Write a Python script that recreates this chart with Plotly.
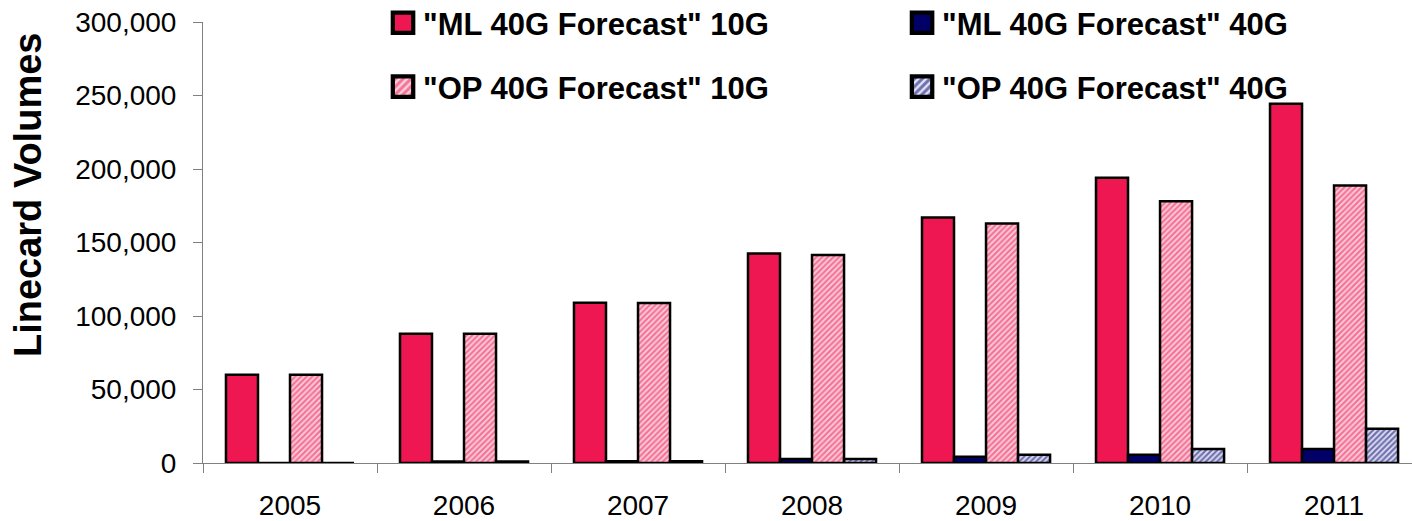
import plotly.graph_objects as go

years = ["2005", "2006", "2007", "2008", "2009", "2010", "2011"]
ml_10g = [60000, 88000, 109000, 142600, 167000, 194000, 244400]
ml_40g = [0, 1000, 1200, 2800, 4300, 5600, 9500]
op_10g = [60000, 88000, 108800, 141500, 163000, 178000, 188700]
op_40g = [0, 1000, 1200, 2800, 5600, 9500, 23300]

RED = "#EF1752"
NAVY = "#000066"
FONT = "Arial, Liberation Sans, sans-serif"

fig = go.Figure()
line = dict(color="black", width=2.5)
fig.add_trace(go.Bar(x=years, y=ml_10g, name='"ML 40G Forecast" 10G',
                     marker=dict(color=RED, line=line), legend="legend"))
fig.add_trace(go.Bar(x=years, y=ml_40g, name='"ML 40G Forecast" 40G',
                     marker=dict(color=NAVY, line=line), legend="legend2"))
fig.add_trace(go.Bar(x=years, y=op_10g, name='"OP 40G Forecast" 10G',
                     marker=dict(color="#FAD0DC", line=line,
                                 pattern=dict(shape="/", fgcolor=RED, bgcolor="#FAD0DC",
                                              size=4, solidity=0.55)),
                     legend="legend3"))
fig.add_trace(go.Bar(x=years, y=op_40g, name='"OP 40G Forecast" 40G',
                     marker=dict(color="#E2E2F6", line=line,
                                 pattern=dict(shape="/", fgcolor=NAVY, bgcolor="#E2E2F6",
                                              size=4, solidity=0.55)),
                     legend="legend4"))

legend_common = dict(orientation="h", xanchor="left", yanchor="middle",
                     font=dict(family=FONT, size=31, color="black", weight="bold"),
                     itemwidth=30, bgcolor="rgba(0,0,0,0)", borderwidth=0)

col1, col2 = 0.1489, 0.5782
row1, row2 = 0.9975, 0.8525

fig.update_layout(
    width=1412, height=521, showlegend=True,
    margin=dict(l=203, r=0, t=22, b=58, autoexpand=False),
    paper_bgcolor="white", plot_bgcolor="white",
    barmode="group", bargap=0.264, bargroupgap=0,
    font=dict(family=FONT, size=28, color="black"),
    legend=dict(x=col1, y=row1, **legend_common),
    legend2=dict(x=col2, y=row1, **legend_common),
    legend3=dict(x=col1, y=row2, **legend_common),
    legend4=dict(x=col2, y=row2, **legend_common),
    xaxis=dict(type="category", range=[-0.5, 6.448], tickson="boundaries",
               ticks="outside", ticklen=9, tickcolor="#808080",
               showline=True, linecolor="#808080", linewidth=1,
               showgrid=False, tickfont=dict(size=28), ticklabelstandoff=17),
    yaxis=dict(range=[0, 300000], dtick=50000, tickformat=",",
               ticks="outside", ticklen=9, tickcolor="#808080",
               showline=True, linecolor="#808080", linewidth=1,
               showgrid=False, zeroline=False, tickfont=dict(size=28),
               ticklabelstandoff=11),
    annotations=[dict(text="<b>Linecard Volumes</b>", textangle=-90,
                      xref="paper", yref="paper", x=-0.1447, y=0.6077,
                      xanchor="center", yanchor="middle", showarrow=False,
                      font=dict(family=FONT, size=38, color="black"))],
)

post = """
var gd = document.getElementById('{plot_id}');
function fixLegend(){
  gd.querySelectorAll('.legendpoints path').forEach(function(p){
    var t = p.getAttribute('transform') || '';
    if (t.indexOf('scale') < 0) { p.setAttribute('transform', t + ' scale(1.7)'); }
  });
}
fixLegend();
gd.on('plotly_afterplot', fixLegend);
"""

fig.write_html("out.html", post_script=post)
